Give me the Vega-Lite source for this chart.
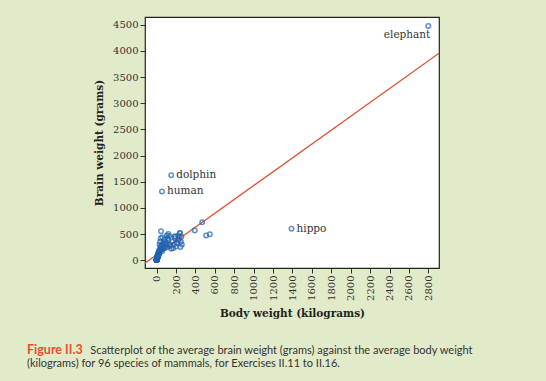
{
  "$schema": "https://vega.github.io/schema/vega-lite/v6.json",
  "autosize": {"type": "none"},
  "padding": {"left": 145, "top": 17, "right": 107, "bottom": 113},
  "width": 294,
  "height": 251,
  "background": "#e2ebc9",
  "title": {
    "text": "Figure II.3",
    "subtitle": ["\u200b\u2003\u2003\u2003\u2003\u2003\u2003\u2003\u2002Scatterplot of the average brain weight (grams) against the average body weight", "(kilograms) for 96 species of mammals, for Exercises II.11 to II.16."],
    "orient": "bottom",
    "anchor": "start",
    "frame": "group",
    "dx": -118,
    "offset": 25,
    "font": "Lato",
    "fontSize": 12.5,
    "fontWeight": "bold",
    "color": "#e4502f",
    "subtitleFont": "Lato",
    "subtitleFontSize": 11,
    "subtitleColor": "#333333",
    "subtitlePadding": -11,
    "subtitleLineHeight": 12.5
  },
  "config": {
    "view": {"stroke": "#222222", "strokeWidth": 1.2, "fill": "white"},
    "axis": {
      "grid": false,
      "domain": false,
      "labelFont": "DejaVu Serif",
      "labelFontSize": 10,
      "labelColor": "#333333",
      "tickColor": "#333333",
      "tickSize": 5,
      "labelPadding": 2,
      "titleFont": "DejaVu Serif",
      "titleFontSize": 10.5,
      "titleFontWeight": "bold",
      "titleColor": "#222222",
      "titlePadding": 8
    }
  },
  "datasets": {
    "mammals": [
      {"body": 0.02, "brain": 0.4}, {"body": 0.05, "brain": 1}, {"body": 0.1, "brain": 2}, {"body": 0.2, "brain": 3},
      {"body": 0.3, "brain": 4}, {"body": 0.5, "brain": 5}, {"body": 0.8, "brain": 6}, {"body": 1, "brain": 8},
      {"body": 1.5, "brain": 10}, {"body": 2, "brain": 12}, {"body": 3, "brain": 15}, {"body": 4, "brain": 20},
      {"body": 5, "brain": 25}, {"body": 6, "brain": 30}, {"body": 8, "brain": 40}, {"body": 10, "brain": 50},
      {"body": 12, "brain": 60}, {"body": 15, "brain": 70}, {"body": 3.5, "brain": 45}, {"body": 2.5, "brain": 30},
      {"body": 7, "brain": 55}, {"body": 9, "brain": 80}, {"body": 11, "brain": 100}, {"body": 14, "brain": 90},
      {"body": 4.5, "brain": 60}, {"body": 6.5, "brain": 75}, {"body": 1.2, "brain": 20}, {"body": 0.7, "brain": 10},
      {"body": 5.5, "brain": 35}, {"body": 13, "brain": 110}, {"body": 0.03, "brain": 0.7}, {"body": 0.15, "brain": 2.5},
      {"body": 0.4, "brain": 4.5}, {"body": 2.2, "brain": 18}, {"body": 16, "brain": 85}, {"body": 19, "brain": 140},
      {"body": 18, "brain": 120}, {"body": 20, "brain": 150}, {"body": 22, "brain": 100}, {"body": 25, "brain": 180},
      {"body": 28, "brain": 130}, {"body": 30, "brain": 200}, {"body": 35, "brain": 160}, {"body": 38, "brain": 250},
      {"body": 40, "brain": 190}, {"body": 45, "brain": 220}, {"body": 50, "brain": 280}, {"body": 55, "brain": 170},
      {"body": 60, "brain": 300}, {"body": 65, "brain": 210}, {"body": 70, "brain": 330}, {"body": 75, "brain": 260},
      {"body": 80, "brain": 400}, {"body": 85, "brain": 230}, {"body": 90, "brain": 350}, {"body": 95, "brain": 290},
      {"body": 100, "brain": 320}, {"body": 36, "brain": 350}, {"body": 42, "brain": 420}, {"body": 58, "brain": 440},
      {"body": 30, "brain": 300}, {"body": 110, "brain": 250}, {"body": 115, "brain": 420}, {"body": 120, "brain": 380},
      {"body": 130, "brain": 460}, {"body": 135, "brain": 300}, {"body": 140, "brain": 270}, {"body": 150, "brain": 220},
      {"body": 160, "brain": 350}, {"body": 170, "brain": 230}, {"body": 180, "brain": 300}, {"body": 185, "brain": 450},
      {"body": 190, "brain": 420}, {"body": 200, "brain": 260}, {"body": 210, "brain": 330}, {"body": 220, "brain": 380},
      {"body": 230, "brain": 400}, {"body": 240, "brain": 520}, {"body": 250, "brain": 350}, {"body": 255, "brain": 450},
      {"body": 260, "brain": 300}, {"body": 245, "brain": 250}, {"body": 225, "brain": 470}, {"body": 105, "brain": 472},
      {"body": 190, "brain": 459}, {"body": 238, "brain": 516}, {"body": 45, "brain": 554}, {"body": 120, "brain": 500},
      {"body": 393, "brain": 567}, {"body": 469, "brain": 726}, {"body": 510, "brain": 472}, {"body": 548, "brain": 497},
      {"body": 2800, "brain": 4480, "name": "elephant"}, {"body": 150, "brain": 1624, "name": "dolphin"},
      {"body": 55, "brain": 1315, "name": "human"}, {"body": 1390, "brain": 600, "name": "hippo"}
    ],
    "fit": [{"body": -120, "brain": -57}, {"body": 2910, "brain": 3956}]
  },
  "encoding": {
    "x": {
      "field": "body", "type": "quantitative",
      "scale": {"domain": [-120, 2910], "nice": false, "zero": false},
      "axis": {"values": [0, 200, 400, 600, 800, 1000, 1200, 1400, 1600, 1800, 2000, 2200, 2400, 2600, 2800], "labelAngle": 270, "format": "d", "title": "Body weight (kilograms)"}
    },
    "y": {
      "field": "brain", "type": "quantitative",
      "scale": {"domain": [-150, 4650], "nice": false, "zero": false},
      "axis": {"values": [0, 500, 1000, 1500, 2000, 2500, 3000, 3500, 4000, 4500], "format": "d", "title": "Brain weight (grams)"}
    }
  },
  "layer": [
    {
      "data": {"name": "fit"},
      "mark": {"type": "line", "color": "#e0573a", "strokeWidth": 1.3, "clip": true}
    },
    {
      "data": {"name": "mammals"},
      "mark": {"type": "point", "shape": "circle", "filled": false, "color": "#1f63b0", "strokeWidth": 1.5, "size": 20}
    },
    {
      "data": {"name": "mammals"},
      "transform": [{"filter": "datum.name === 'elephant'"}],
      "mark": {"type": "text", "align": "right", "dx": 2, "dy": 9, "font": "DejaVu Serif", "fontSize": 10.5, "color": "#333333"},
      "encoding": {"text": {"field": "name"}}
    },
    {
      "data": {"name": "mammals"},
      "transform": [{"filter": "datum.name && datum.name !== 'elephant'"}],
      "mark": {"type": "text", "align": "left", "dx": 5, "dy": 0, "baseline": "middle", "font": "DejaVu Serif", "fontSize": 10.5, "color": "#333333"},
      "encoding": {"text": {"field": "name"}}
    }
  ]
}
